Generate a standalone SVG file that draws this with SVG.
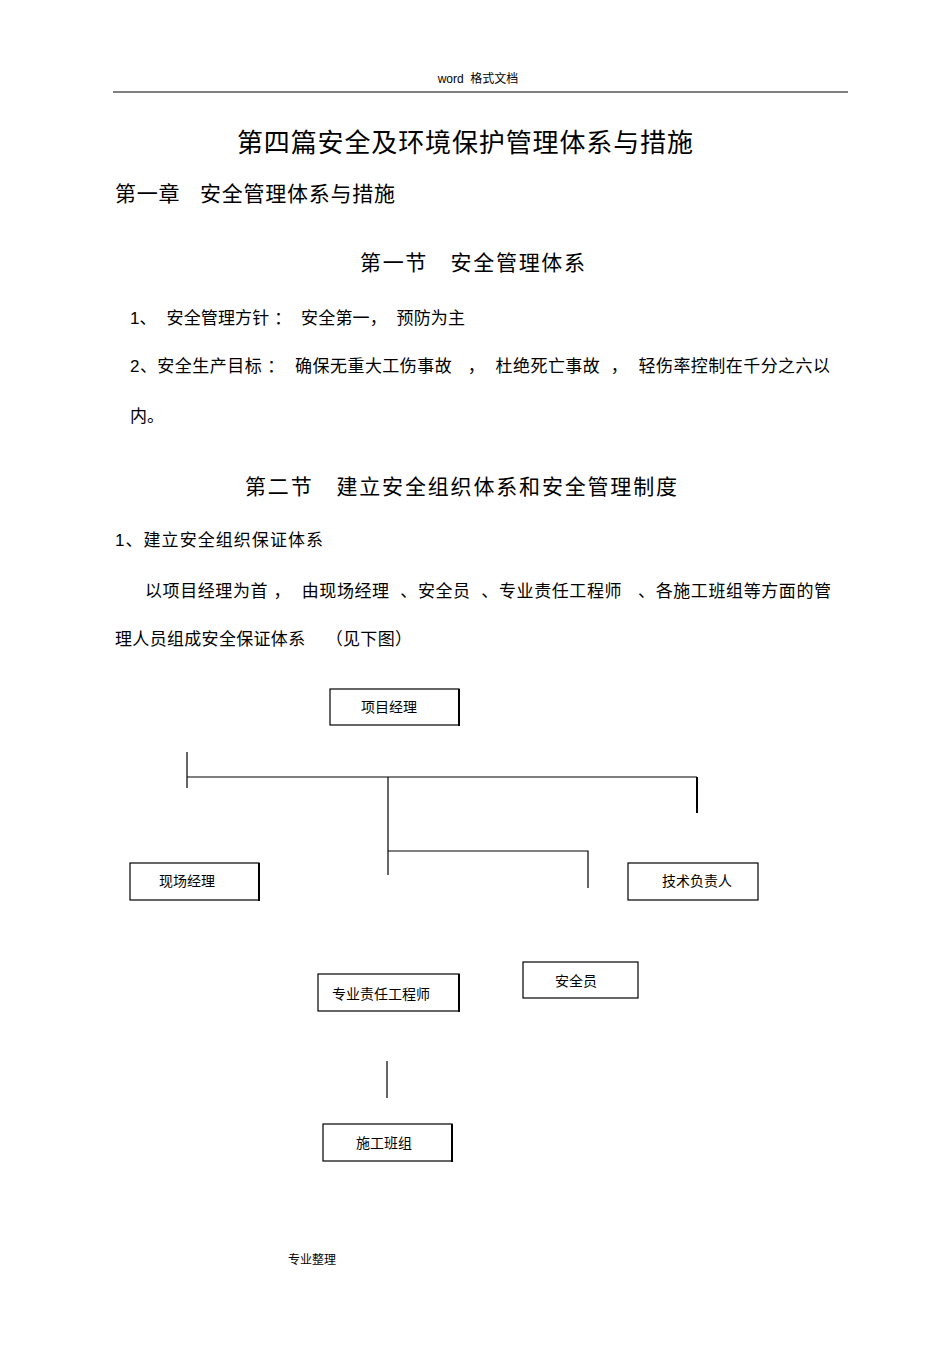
<svg xmlns="http://www.w3.org/2000/svg" width="950" height="1345" viewBox="0 0 950 1345">
<style>
text{font-family:"Liberation Sans","Noto Sans CJK SC",sans-serif;fill:#000;white-space:pre}
.b{fill:#fff;stroke:#000;stroke-width:1.2}
.l{stroke:#000;stroke-width:1.2;fill:none}
.n{font-size:14px;text-anchor:middle}
.p{font-size:17px}
</style>
<rect width="950" height="1345" fill="#fff"/>
<text x="478" y="83" font-size="12" text-anchor="middle">word  格式文档</text>
<line x1="113" y1="92" x2="848" y2="92" stroke="#000" stroke-width="1"/>
<text x="237" y="152" font-size="26" textLength="456">第四篇安全及环境保护管理体系与措施</text>
<text x="115" y="201" font-size="21" textLength="280">第一章   安全管理体系与措施</text>
<text x="360" y="270" font-size="21" textLength="225">第一节   安全管理体系</text>
<text x="130" y="324" class="p" textLength="335">1、  安全管理方针 ：  安全第一，  预防为主</text>
<text x="130" y="372" class="p" textLength="700">2、安全生产目标 ：  确保无重大工伤事故   ，  杜绝死亡事故  ，  轻伤率控制在千分之六以</text>
<text x="130" y="422" class="p">内。</text>
<text x="245" y="494" font-size="21" textLength="432">第二节   建立安全组织体系和安全管理制度</text>
<text x="115" y="546" class="p" textLength="208">1、建立安全组织保证体系</text>
<text x="145" y="597" class="p" textLength="686">以项目经理为首 ，  由现场经理  、安全员  、专业责任工程师   、各施工班组等方面的管</text>
<text x="115" y="645" class="p" textLength="297">理人员组成安全保证体系    （见下图）</text>
<g id="connectors">
<line class="l" x1="187" y1="752" x2="187" y2="788"/>
<line class="l" x1="187" y1="777" x2="697" y2="777"/>
<line x1="697" y1="777" x2="697" y2="813" stroke="#000" stroke-width="2"/>
<line class="l" x1="388" y1="777" x2="388" y2="875"/>
<polyline class="l" points="388,851 588,851 588,888"/>
<line class="l" x1="387" y1="1061" x2="387" y2="1098"/>
</g>
<g id="n1"><rect class="b" x="330" y="689" width="129" height="36"/><line x1="459" y1="689" x2="459" y2="726" stroke="#000" stroke-width="2"/><text class="n" x="389" y="712">项目经理</text></g>
<g id="n2"><rect class="b" x="130" y="863" width="129" height="37"/><line x1="259" y1="863" x2="259" y2="901" stroke="#000" stroke-width="2"/><text class="n" x="187" y="886">现场经理</text></g>
<g id="n3"><rect class="b" x="628" y="863" width="130" height="37"/><text class="n" x="697" y="886">技术负责人</text></g>
<g id="n4"><rect class="b" x="318" y="974" width="141" height="37"/><line x1="459" y1="974" x2="459" y2="1012" stroke="#000" stroke-width="2"/><text class="n" x="381" y="999">专业责任工程师</text></g>
<g id="n5"><rect class="b" x="523" y="962" width="115" height="36"/><text class="n" x="576" y="986">安全员</text></g>
<g id="n6"><rect class="b" x="323" y="1124" width="129" height="37"/><line x1="452" y1="1124" x2="452" y2="1162" stroke="#000" stroke-width="2"/><text class="n" x="384" y="1148">施工班组</text></g>
<text x="288" y="1264" font-size="12">专业整理</text>
</svg>
